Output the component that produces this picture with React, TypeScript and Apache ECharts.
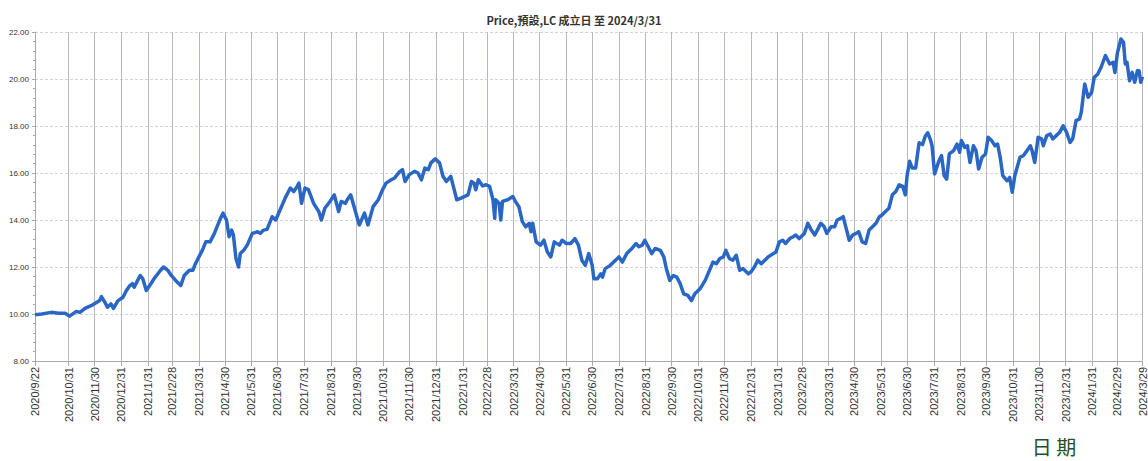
import React, { useEffect, useRef } from "react";
import * as echarts from "echarts";

const titleText = "Price,預設,LC 成立日 至 2024/3/31";
const xAxisName = "日 期";
const startDate = "2020/9/22";
const endDate = "2024/3/29";

const tickLabels = [
  "2020/9/22", "2020/10/31", "2020/11/30", "2020/12/31",
  "2021/1/31", "2021/2/28", "2021/3/31", "2021/4/30", "2021/5/31", "2021/6/30",
  "2021/7/31", "2021/8/31", "2021/9/30", "2021/10/31", "2021/11/30", "2021/12/31",
  "2022/1/31", "2022/2/28", "2022/3/31", "2022/4/30", "2022/5/31", "2022/6/30",
  "2022/7/31", "2022/8/31", "2022/9/30", "2022/10/31", "2022/11/30", "2022/12/31",
  "2023/1/31", "2023/2/28", "2023/3/31", "2023/4/30", "2023/5/31", "2023/6/30",
  "2023/7/31", "2023/8/31", "2023/9/30", "2023/10/31", "2023/11/30", "2023/12/31",
  "2024/1/31", "2024/2/29", "2024/3/29",
];

const dates = [
  "2020/9/22", "2020/9/30", "2020/10/11", "2020/10/19", "2020/10/27", "2020/11/1", "2020/11/9", "2020/11/13",
  "2020/11/19", "2020/11/28", "2020/12/6", "2020/12/8", "2020/12/12", "2020/12/15", "2020/12/19", "2020/12/22",
  "2020/12/27", "2021/1/2", "2021/1/6", "2021/1/10", "2021/1/13", "2021/1/15", "2021/1/19", "2021/1/22",
  "2021/1/25", "2021/1/29", "2021/2/2", "2021/2/7", "2021/2/13", "2021/2/18", "2021/2/23", "2021/2/27",
  "2021/3/4", "2021/3/10", "2021/3/14", "2021/3/20", "2021/3/24", "2021/3/27", "2021/3/31", "2021/4/4",
  "2021/4/8", "2021/4/13", "2021/4/18", "2021/4/21", "2021/4/25", "2021/4/28", "2021/5/2", "2021/5/5",
  "2021/5/8", "2021/5/10", "2021/5/13", "2021/5/16", "2021/5/18", "2021/5/22", "2021/5/26", "2021/6/1",
  "2021/6/7", "2021/6/10", "2021/6/14", "2021/6/18", "2021/6/24", "2021/6/28", "2021/7/4", "2021/7/9",
  "2021/7/15", "2021/7/19", "2021/7/23", "2021/7/25", "2021/7/28", "2021/8/1", "2021/8/5", "2021/8/11",
  "2021/8/17", "2021/8/20", "2021/8/24", "2021/8/30", "2021/9/4", "2021/9/9", "2021/9/12", "2021/9/17",
  "2021/9/19", "2021/9/23", "2021/9/28", "2021/10/3", "2021/10/9", "2021/10/13", "2021/10/19", "2021/10/25",
  "2021/10/30", "2021/11/3", "2021/11/9", "2021/11/13", "2021/11/19", "2021/11/22", "2021/11/25", "2021/11/30",
  "2021/12/6", "2021/12/10", "2021/12/14", "2021/12/18", "2021/12/22", "2021/12/25", "2021/12/30", "2022/1/4",
  "2022/1/8", "2022/1/12", "2022/1/17", "2022/1/21", "2022/1/24", "2022/1/29", "2022/2/6", "2022/2/10",
  "2022/2/13", "2022/2/15", "2022/2/18", "2022/2/23", "2022/2/27", "2022/3/3", "2022/3/7", "2022/3/9",
  "2022/3/10", "2022/3/14", "2022/3/16", "2022/3/18", "2022/3/24", "2022/3/30", "2022/4/2", "2022/4/6",
  "2022/4/10", "2022/4/14", "2022/4/18", "2022/4/20", "2022/4/22", "2022/4/26", "2022/5/1", "2022/5/5",
  "2022/5/9", "2022/5/13", "2022/5/17", "2022/5/23", "2022/5/26", "2022/5/31", "2022/6/5", "2022/6/10",
  "2022/6/14", "2022/6/18", "2022/6/22", "2022/6/26", "2022/6/30", "2022/7/2", "2022/7/6", "2022/7/10",
  "2022/7/12", "2022/7/15", "2022/7/21", "2022/7/27", "2022/7/31", "2022/8/4", "2022/8/9", "2022/8/15",
  "2022/8/20", "2022/8/23", "2022/8/27", "2022/8/30", "2022/9/3", "2022/9/7", "2022/9/11", "2022/9/17",
  "2022/9/21", "2022/9/24", "2022/9/28", "2022/10/2", "2022/10/6", "2022/10/10", "2022/10/14", "2022/10/19",
  "2022/10/23", "2022/10/27", "2022/11/2", "2022/11/8", "2022/11/13", "2022/11/17", "2022/11/21", "2022/11/25",
  "2022/11/29", "2022/12/2", "2022/12/6", "2022/12/10", "2022/12/14", "2022/12/18", "2022/12/22", "2022/12/28",
  "2022/12/31", "2023/1/4", "2023/1/8", "2023/1/12", "2023/1/20", "2023/1/29", "2023/2/2", "2023/2/6",
  "2023/2/9", "2023/2/14", "2023/2/18", "2023/2/21", "2023/2/25", "2023/3/3", "2023/3/7", "2023/3/11",
  "2023/3/15", "2023/3/18", "2023/3/22", "2023/3/26", "2023/3/29", "2023/4/3", "2023/4/7", "2023/4/10",
  "2023/4/14", "2023/4/17", "2023/4/20", "2023/4/24", "2023/4/28", "2023/5/2", "2023/5/5", "2023/5/9",
  "2023/5/13", "2023/5/17", "2023/5/21", "2023/5/25", "2023/5/29", "2023/6/1", "2023/6/5", "2023/6/9",
  "2023/6/13", "2023/6/17", "2023/6/21", "2023/6/25", "2023/6/28", "2023/6/30", "2023/7/3", "2023/7/6",
  "2023/7/10", "2023/7/14", "2023/7/18", "2023/7/21", "2023/7/24", "2023/7/27", "2023/7/29", "2023/8/1",
  "2023/8/6", "2023/8/9", "2023/8/12", "2023/8/15", "2023/8/18", "2023/8/23", "2023/8/27", "2023/8/30",
  "2023/9/1", "2023/9/5", "2023/9/8", "2023/9/11", "2023/9/15", "2023/9/18", "2023/9/21", "2023/9/25",
  "2023/9/29", "2023/10/2", "2023/10/6", "2023/10/10", "2023/10/13", "2023/10/16", "2023/10/19", "2023/10/24",
  "2023/10/27", "2023/10/30", "2023/11/2", "2023/11/8", "2023/11/12", "2023/11/16", "2023/11/20", "2023/11/22",
  "2023/11/25", "2023/11/29", "2023/12/3", "2023/12/5", "2023/12/9", "2023/12/13", "2023/12/16", "2023/12/20",
  "2023/12/24", "2023/12/28", "2024/1/1", "2024/1/5", "2024/1/8", "2024/1/12", "2024/1/16", "2024/1/18",
  "2024/1/22", "2024/1/26", "2024/1/30", "2024/2/2", "2024/2/6", "2024/2/10", "2024/2/15", "2024/2/20",
  "2024/2/24", "2024/2/26", "2024/2/29", "2024/3/4", "2024/3/7", "2024/3/9", "2024/3/11", "2024/3/14",
  "2024/3/17", "2024/3/20", "2024/3/23", "2024/3/25", "2024/3/27", "2024/3/29",
];

const prices = [
  9.97, 10.0, 10.07, 10.03, 10.03, 9.91, 10.11, 10.07,
  10.24, 10.39, 10.57, 10.74, 10.5, 10.29, 10.43, 10.24,
  10.56, 10.71, 11.0, 11.21, 11.29, 11.14, 11.43, 11.64,
  11.5, 11.0, 11.21, 11.5, 11.79, 12.0, 11.86, 11.64,
  11.43, 11.21, 11.64, 11.86, 11.86, 12.14, 12.43, 12.71,
  13.07, 13.07, 13.43, 13.71, 14.07, 14.29, 14.0, 13.29,
  13.57, 13.36, 12.36, 12.0, 12.57, 12.71, 12.93, 13.43,
  13.5, 13.43, 13.57, 13.6, 14.14, 14.0, 14.5, 14.93,
  15.36, 15.21, 15.43, 15.57, 14.71, 15.36, 15.29, 14.71,
  14.36, 14.0, 14.5, 14.79, 15.07, 14.36, 14.79, 14.71,
  14.86, 15.07, 14.43, 13.79, 14.29, 13.79, 14.57, 14.86,
  15.29, 15.57, 15.71, 15.79, 16.07, 16.14, 15.64, 15.93,
  16.07, 16.0, 15.71, 16.21, 16.14, 16.43, 16.6, 16.43,
  15.86, 15.64, 15.86, 15.29, 14.86, 14.93, 15.07, 15.64,
  15.57, 15.29, 15.71, 15.45, 15.5, 15.43, 14.86, 14.07,
  14.86, 14.71, 14.0, 14.79, 14.86, 15.0, 14.79, 14.57,
  13.93, 13.71, 13.86, 13.5, 13.86, 13.07, 12.93, 13.14,
  12.64, 12.43, 13.07, 12.93, 13.14, 13.0, 13.0, 13.21,
  12.93, 12.29, 12.07, 12.57, 12.07, 11.5, 11.5, 11.71,
  11.57, 11.93, 12.07, 12.29, 12.43, 12.21, 12.57, 12.79,
  13.0, 12.86, 12.93, 13.14, 12.86, 12.57, 12.79, 12.71,
  12.43, 11.93, 11.43, 11.64, 11.57, 11.29, 10.86, 10.79,
  10.57, 10.86, 11.07, 11.43, 11.86, 12.21, 12.14, 12.36,
  12.43, 12.71, 12.36, 12.29, 12.5, 11.86, 11.93, 11.71,
  11.79, 12.0, 12.29, 12.14, 12.43, 12.64, 13.07, 13.14,
  13.0, 13.21, 13.29, 13.36, 13.21, 13.43, 13.86, 13.57,
  13.36, 13.57, 13.86, 13.71, 13.43, 13.71, 13.71, 14.0,
  14.07, 14.14, 13.71, 13.14, 13.36, 13.43, 13.5, 13.07,
  13.0, 13.57, 13.71, 13.86, 14.14, 14.21, 14.36, 14.5,
  15.07, 15.21, 15.5, 15.43, 15.07, 15.86, 16.5, 16.21,
  16.21, 17.29, 17.21, 17.55, 17.71, 17.43, 17.16, 15.96,
  16.52, 16.74, 15.89, 15.74, 16.81, 16.95, 17.23, 16.88,
  17.38, 17.09, 17.16, 16.45, 17.16, 16.95, 16.17, 16.67,
  16.81, 17.52, 17.38, 17.16, 17.23, 16.67, 15.89, 15.67,
  15.81, 15.18, 15.89, 16.67, 16.74, 16.95, 17.16, 16.95,
  16.45, 17.52, 17.45, 17.16, 17.59, 17.66, 17.45, 17.59,
  17.73, 18.01, 17.73, 17.3, 17.45, 18.23, 18.3, 18.58,
  19.79, 19.22, 19.43, 20.07, 20.2, 20.5, 21.0, 20.64,
  20.71, 20.28, 21.13, 21.7, 21.56, 20.64, 20.71, 19.93,
  20.28, 19.86, 20.35, 20.35, 19.86, 20.1,
];

function buildDays(from: string, to: string): string[] {
  const [fy, fm, fd] = from.split("/").map(Number);
  const [ty, tm, td] = to.split("/").map(Number);
  const out: string[] = [];
  let t = Date.UTC(fy, fm - 1, fd);
  const end = Date.UTC(ty, tm - 1, td);
  while (t <= end) {
    const d = new Date(t);
    out.push(`${d.getUTCFullYear()}/${d.getUTCMonth() + 1}/${d.getUTCDate()}`);
    t += 86400000;
  }
  return out;
}

export default function App() {
  const ref = useRef<HTMLDivElement>(null);
  useEffect(() => {
    if (!ref.current) return;
    const chart = echarts.init(ref.current, undefined, { renderer: "svg" });
    const days = buildDays(startDate, endDate);
    const labelSet = new Set(tickLabels);
    const showAt = (_i: number, v: string) => labelSet.has(v);
    const seriesData = dates.map((d, i) => [d, prices[i]]);
    chart.setOption({
      animation: false,
      backgroundColor: "#ffffff",
      title: {
        text: titleText,
        left: 569,
        top: 9,
        textAlign: "center",
        textStyle: {
          fontSize: 11,
          fontWeight: "bold",
          color: "#333333",
          fontFamily: "'Noto Sans CJK TC', 'Noto Sans', sans-serif",
        },
      },
      grid: { left: 35, right: 0, top: 32, bottom: 100, containLabel: false },
      xAxis: {
        type: "category",
        data: days,
        boundaryGap: false,
        axisLine: { show: true, lineStyle: { color: "#a8a8b0", width: 1 } },
        axisTick: { show: true, interval: showAt, length: 5, lineStyle: { color: "#a8a8b0" } },
        axisLabel: {
          interval: showAt,
          rotate: 90,
          margin: 6,
          fontSize: 11,
          color: "#333333",
          fontFamily: "'Liberation Sans', 'Noto Sans', sans-serif",
        },
        splitLine: { show: true, interval: showAt, lineStyle: { color: "#b8b8c0", width: 1 } },
      },
      yAxis: {
        type: "value",
        min: 8,
        max: 22,
        interval: 2,
        axisLine: { show: true, lineStyle: { color: "#a8a8b0", width: 1 } },
        axisTick: { show: true, length: 3, lineStyle: { color: "#a8a8b0" } },
        minorTick: { show: true, splitNumber: 5, length: 2, lineStyle: { color: "#a8a8b0" } },
        axisLabel: {
          formatter: (v: number) => v.toFixed(2),
          fontSize: 8,
          margin: 6,
          color: "#333333",
          fontFamily: "'Liberation Sans', 'Noto Sans', sans-serif",
        },
        splitLine: { show: true, lineStyle: { color: "#d4d4d8", type: [3, 2], width: 1 } },
      },
      graphic: [
        {
          type: "text",
          x: 1054,
          y: 446,
          style: {
            text: xAxisName,
            textAlign: "center",
            textVerticalAlign: "middle",
            fontSize: 20,
            fontFamily: "'Noto Sans CJK TC', serif",
            fill: "#24502a",
          },
        },
      ],
      series: [
        {
          type: "line",
          data: seriesData,
          showSymbol: false,
          symbol: "none",
          lineStyle: { color: "#2a66c4", width: 3.5, join: "round" },
          itemStyle: { color: "#2a66c4" },
        },
      ],
    });
    return () => chart.dispose();
  }, []);
  return (
    <div
      ref={ref}
      style={{ position: "fixed", left: 0, top: 0, width: 1148, height: 461, background: "#fff" }}
    />
  );
}
